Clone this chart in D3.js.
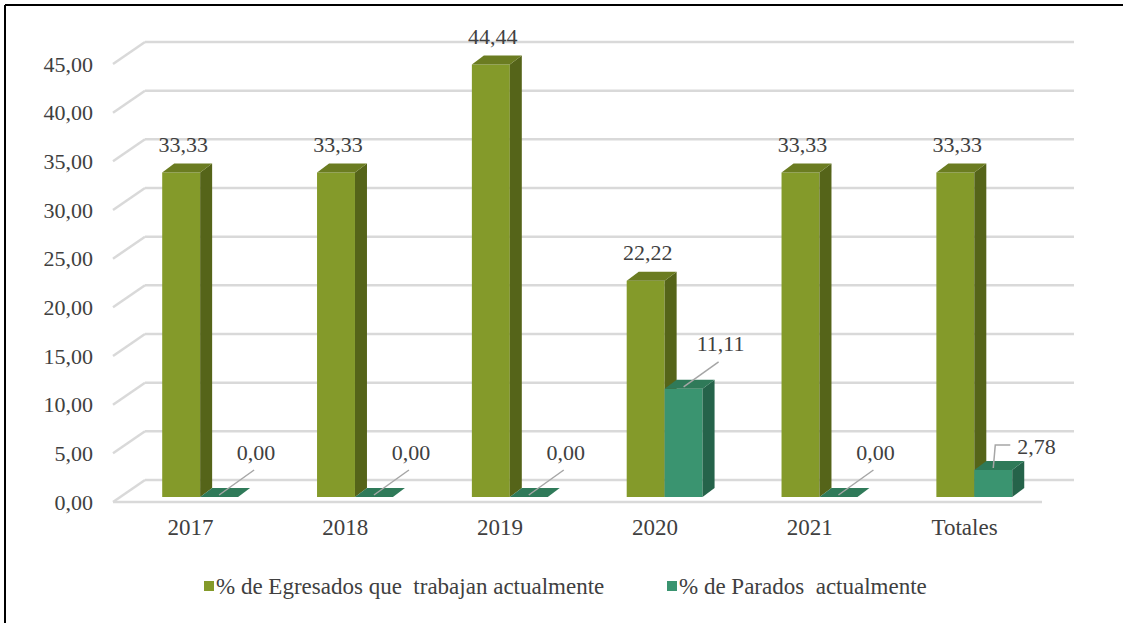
<!DOCTYPE html>
<html>
<head>
<meta charset="utf-8">
<script src="https://cdn.jsdelivr.net/npm/d3@7"></script>
<style>
  html, body { margin: 0; padding: 0; background: #fff; }
  svg { display: block; }
  text { font-family: "Liberation Serif", "Times New Roman", serif; fill: #404040; }
</style>
</head>
<body>
<svg id="chart" width="1123" height="623"></svg>
<script>
// ---- Data ----
const categories = ["2017", "2018", "2019", "2020", "2021", "Totales"];
const seriesNames = ["% de Egresados que  trabajan actualmente", "% de Parados  actualmente"];
const trabajan = [33.33, 33.33, 44.44, 22.22, 33.33, 33.33];
const parados = [0.00, 0.00, 0.00, 11.11, 0.00, 2.78];
const yTicks = [0, 5, 10, 15, 20, 25, 30, 35, 40, 45];

// ---- Layout ----
const W = 1123, H = 623;
const svg = d3.select("#chart");
const numSize = 22;
const textSize = 23;

const front = { left: 113, right: 1042, bottom: 502, top: 64 };
const depth = { dx: 32, dy: -22 };
const barFace = { dx: 7.4, dy: -5 };
const barDepth = { dx: 12, dy: -9 };

const x = d3.scaleBand().domain(categories).range([front.left, front.right]).paddingInner(0).paddingOuter(0);
const y = d3.scaleLinear().domain([0, 45]).range([front.bottom, front.top]);
const groupStart = 0.27, groupWidth = 0.49;
const xs = d3.scaleBand().domain(seriesNames).range([0, x.bandwidth() * groupWidth]).padding(0);

const loc = d3.formatLocale({ decimal: ",", thousands: ".", grouping: [3], currency: ["", "€"] });
const fmt = loc.format(".2f");

const colors = [
  { front: "#849a2a", side: "#556419", top: "#6b7c21" },
  { front: "#3a9470", side: "#25634a", top: "#2f7a59" }
];

// ---- Border (partial frame as in reference) ----
svg.append("line").attr("x1", 5).attr("y1", 5).attr("x2", W).attr("y2", 5).attr("stroke", "#000").attr("stroke-width", 2);
svg.append("line").attr("x1", 5).attr("y1", 5).attr("x2", 5).attr("y2", H).attr("stroke", "#000").attr("stroke-width", 2);

// ---- Gridlines (back wall + side wall) ----
const grid = svg.append("g").attr("stroke", "#d9d9d9").attr("stroke-width", 2.5).attr("fill", "none");
yTicks.forEach(t => {
  const yy = y(t);
  grid.append("line")
    .attr("x1", front.left + depth.dx).attr("y1", yy + depth.dy)
    .attr("x2", front.right + depth.dx).attr("y2", yy + depth.dy);
  grid.append("line")
    .attr("x1", front.left).attr("y1", yy)
    .attr("x2", front.left + depth.dx).attr("y2", yy + depth.dy);
});
grid.append("line")
  .attr("x1", front.left).attr("y1", y(0))
  .attr("x2", front.right).attr("y2", y(0));

// ---- Axes ----
const yAxis = d3.axisLeft(y).tickValues(yTicks).tickSize(0).tickPadding(20).tickFormat(fmt);
const gy = svg.append("g").attr("transform", `translate(${front.left},0)`).call(yAxis);
gy.select(".domain").remove();
gy.attr("font-family", null);
gy.selectAll("text").style("font-size", numSize + "px").style("font-family", "'Liberation Serif', serif").attr("fill", "#404040");

const xAxis = d3.axisBottom(x).tickSize(0).tickPadding(17);
const gx = svg.append("g").attr("transform", `translate(0,${front.bottom})`).call(xAxis);
gx.select(".domain").remove();
gx.attr("font-family", null);
gx.selectAll("text").style("font-size", textSize + "px").style("font-family", "'Liberation Serif', serif").attr("fill", "#404040");

// ---- Bars ----
function bar3d(g, x0, w, v, c) {
  const yb = y(0) + barFace.dy;
  const yt = y(v) + barFace.dy;
  const xl = x0 + barFace.dx, xr = xl + w;
  const ddx = barDepth.dx, ddy = barDepth.dy;
  if (v > 0) {
    g.append("path").attr("fill", c.front)
      .attr("d", `M${xl},${yb}L${xr},${yb}L${xr},${yt}L${xl},${yt}Z`);
    g.append("path").attr("fill", c.side)
      .attr("d", `M${xr},${yb}L${xr + ddx},${yb + ddy}L${xr + ddx},${yt + ddy}L${xr},${yt}Z`);
  }
  g.append("path").attr("fill", c.top)
    .attr("d", `M${xl},${yt}L${xr},${yt}L${xr + ddx},${yt + ddy}L${xl + ddx},${yt + ddy}Z`);
  return { cx: (xl + xr) / 2, yt: yt, xr: xr };
}

const bars = svg.append("g");
const labels = svg.append("g");
categories.forEach((cat, i) => {
  const gStart = x(cat) + x.bandwidth() * groupStart;
  const vals = [trabajan[i], parados[i]];
  vals.forEach((v, s) => {
    const r = bar3d(bars, gStart + xs(seriesNames[s]), xs.bandwidth(), v, colors[s]);
    if (s === 0) {
      labels.append("text")
        .attr("x", r.cx + 2).attr("y", r.yt - 28)
        .attr("text-anchor", "middle").attr("dominant-baseline", "central")
        .style("font-size", numSize + "px").text(fmt(v));
    } else if (v > 0 && v < 5) {
      labels.append("path").attr("fill", "none").attr("stroke", "#a6a6a6").attr("stroke-width", 1.5)
        .attr("d", `M${r.cx},${r.yt - 2}L${r.cx + 2},${r.yt - 25}L${r.cx + 17},${r.yt - 25}`);
      labels.append("text")
        .attr("x", r.cx + 24).attr("y", r.yt - 23)
        .attr("text-anchor", "start").attr("dominant-baseline", "central")
        .style("font-size", numSize + "px").text(fmt(v));
    } else {
      labels.append("line").attr("stroke", "#a6a6a6").attr("stroke-width", 1.5)
        .attr("x1", r.cx).attr("y1", r.yt - 2)
        .attr("x2", r.cx + 35).attr("y2", r.yt - 27);
      labels.append("text")
        .attr("x", r.cx + 37).attr("y", r.yt - 45)
        .attr("text-anchor", "middle").attr("dominant-baseline", "central")
        .style("font-size", numSize + "px").text(fmt(v));
    }
  });
});

// ---- Legend ----
const legend = svg.append("g").attr("transform", "translate(0,586)");
const legendX = [204, 667];
seriesNames.forEach((name, s) => {
  legend.append("rect").attr("x", legendX[s]).attr("y", -5).attr("width", 10).attr("height", 10).attr("fill", colors[s].front);
  legend.append("text").attr("x", legendX[s] + 12).attr("y", 0)
    .attr("dominant-baseline", "central").style("font-size", textSize + "px")
    .attr("xml:space", "preserve").style("white-space", "pre").text(name);
});
</script>
</body>
</html>
